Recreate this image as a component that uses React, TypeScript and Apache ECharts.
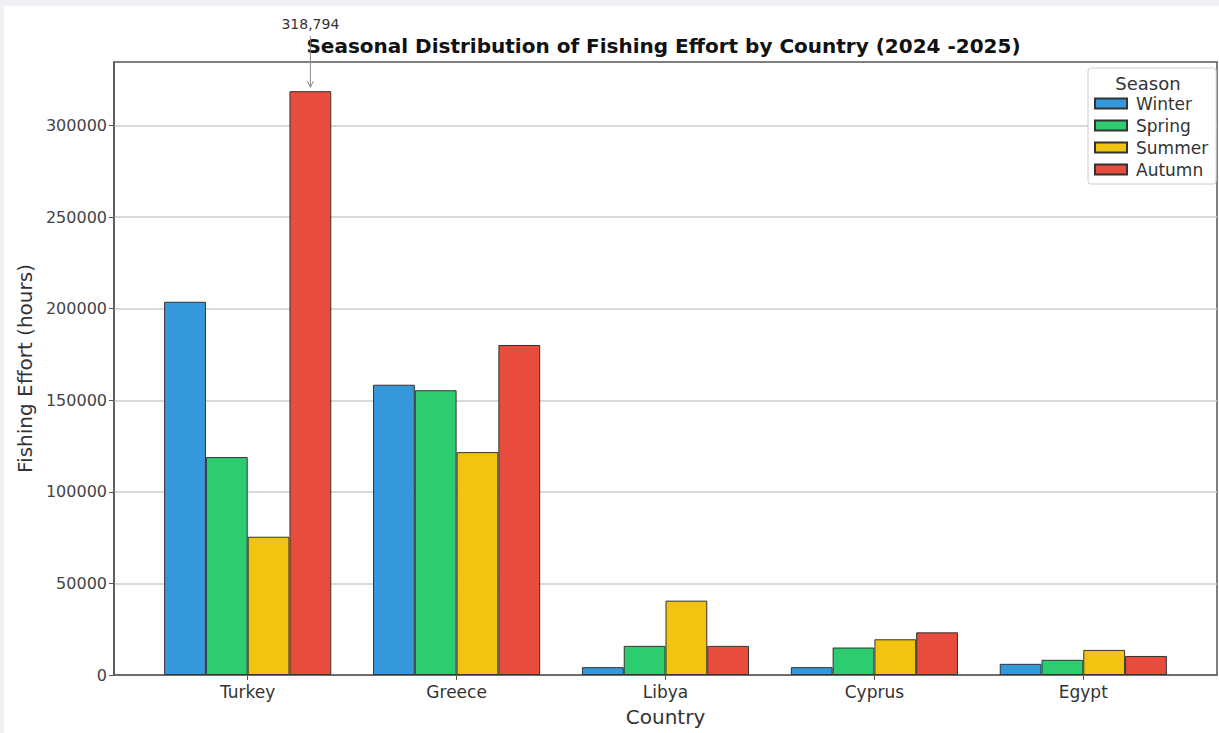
import React, { useEffect, useRef } from 'react';
import * as echarts from 'echarts';

const countries = ['Turkey', 'Greece', 'Libya', 'Cyprus', 'Egypt'];
const seasons = ['Winter', 'Spring', 'Summer', 'Autumn'];
const winter = [203800, 158500, 4300, 4300, 6100];
const spring = [119000, 155500, 15900, 15000, 8300];
const summer = [75500, 121700, 40600, 19500, 13700];
const autumn = [318794, 180200, 15900, 23300, 10400];
const yTicks = [0, 50000, 100000, 150000, 200000, 250000, 300000];
const peakLabel = '318,794';

const colors = ['#3498db', '#2ecc71', '#f1c40f', '#e74c3c'];
const FONT = 'DejaVu Sans';

export default function App() {
  const ref = useRef<HTMLDivElement>(null);
  useEffect(() => {
    const chart = echarts.init(ref.current!, null, { renderer: 'svg' });
    const seriesValues = [winter, spring, summer, autumn];
    const groupWidth = 0.8;
    const nS = seasons.length;
    const frac = groupWidth / nS;
    const span = countries.length - 1 + groupWidth;
    const xMin = -groupWidth / 2 - 0.05 * span;
    const xMax = countries.length - 1 + groupWidth / 2 + 0.05 * span;
    const allMax = Math.max(...winter, ...spring, ...summer, ...autumn);
    const yMax = allMax * 1.05;
    const gridLeft = 114, gridTop = 62, gridW = 1103, gridH = 613;
    const barPx = (frac * gridW) / (xMax - xMin);
    const idx = countries.map((_, i) => i);

    chart.setOption({
      animation: false,
      backgroundColor: '#eff1f4',
      textStyle: { fontFamily: FONT },
      title: {
        text: 'Seasonal Distribution of Fishing Effort by Country (2024 -2025)',
        left: gridLeft + gridW / 2 - 2,
        textAlign: 'center',
        top: 36,
        padding: 0,
        textStyle: { fontFamily: FONT, fontSize: 20, fontWeight: 'bold', color: '#111' },
      },
      legend: {
        data: seasons,
        orient: 'vertical',
        left: 1088,
        top: 68,
        padding: [27, 8, 6, 6],
        itemWidth: 32,
        itemHeight: 10,
        itemGap: 5,
        icon: 'rect',
        borderColor: '#cccccc',
        borderWidth: 1,
        borderRadius: 3,
        backgroundColor: '#ffffff',
        textStyle: { fontFamily: FONT, fontSize: 17, color: '#333', padding: [0, 0, 0, 4], width: 66, overflow: 'none' },
      },
      grid: {
        left: gridLeft, top: gridTop, width: gridW, height: gridH,
        show: true, borderColor: '#555', borderWidth: 1.5, backgroundColor: '#ffffff',
      },
      xAxis: {
        type: 'value',
        min: xMin,
        max: xMax,
        minInterval: 1,
        maxInterval: 1,
        name: 'Country',
        nameLocation: 'middle',
        nameGap: 32,
        nameTextStyle: { fontFamily: FONT, fontSize: 20, color: '#333' },
        axisLine: { show: true, onZero: false, lineStyle: { color: '#555', width: 1.5 } },
        axisTick: { show: true, length: 5, customValues: idx, lineStyle: { color: '#555' } },
        axisLabel: {
          customValues: idx,
          formatter: (v: number) => countries[Math.round(v)] ?? '',
          fontFamily: FONT, fontSize: 17, color: '#333', margin: 8,
        },
        splitLine: { show: false },
      },
      yAxis: {
        type: 'value',
        min: 0,
        max: yMax,
        interval: 50000,
        name: 'Fishing Effort (hours)',
        nameLocation: 'middle',
        nameGap: 79,
        nameRotate: 90,
        nameTextStyle: { fontFamily: FONT, fontSize: 20, color: '#333' },
        axisLine: { show: true, onZero: false, lineStyle: { color: '#555', width: 1.5 } },
        axisTick: { show: true, length: 5, customValues: yTicks, lineStyle: { color: '#555' } },
        axisLabel: {
          customValues: yTicks,
          formatter: (v: number) => String(v),
          fontFamily: FONT, fontSize: 16, color: '#444', margin: 7,
        },
        splitLine: { show: true, lineStyle: { color: '#cccccc', width: 1.5 } },
      },
      series: seasons.map((s, k) => ({
        name: s,
        type: 'bar',
        barWidth: barPx,
        barGap: '-100%',
        itemStyle: { color: colors[k], borderColor: '#333', borderWidth: 1 },
        data: seriesValues[k].map((v, i) => [i - groupWidth / 2 + frac * (k + 0.5), v]),
      })),
    });

    const peakIdx = autumn.indexOf(Math.max(...autumn));
    const peakX = peakIdx - groupWidth / 2 + frac * (nS - 0.5);
    const p = chart.convertToPixel({ xAxisIndex: 0, yAxisIndex: 0 }, [peakX, autumn[peakIdx]]) as number[];
    const tipY = p[1] - 4;
    const startY = p[1] - 55;
    chart.setOption({
      graphic: [
        { type: 'rect', left: 4, top: 6, shape: { width: 1215, height: 727 }, style: { fill: '#ffffff' }, z: -100, silent: true },
        {
          type: 'text', x: p[0], y: p[1] - 67, z: 100,
          style: { text: peakLabel, fontFamily: FONT, fontSize: 14, fill: '#333', align: 'center', verticalAlign: 'middle' },
        },
        { type: 'line', z: 100, shape: { x1: p[0], y1: startY, x2: p[0], y2: tipY }, style: { stroke: '#888', lineWidth: 1 } },
        { type: 'polyline', z: 100, shape: { points: [[p[0] - 3, tipY - 6], [p[0], tipY], [p[0] + 3, tipY - 6]] }, style: { stroke: '#888', lineWidth: 1, fill: 'none' } },
        {
          type: 'text', x: 1148, y: 83, z: 100,
          style: { text: 'Season', fontFamily: FONT, fontSize: 18, fill: '#333', align: 'center', verticalAlign: 'middle' },
        },
      ],
    });

    return () => chart.dispose();
  }, []);
  return <div ref={ref} style={{ position: 'absolute', left: 0, top: 0, width: 1219, height: 733 }} />;
}
